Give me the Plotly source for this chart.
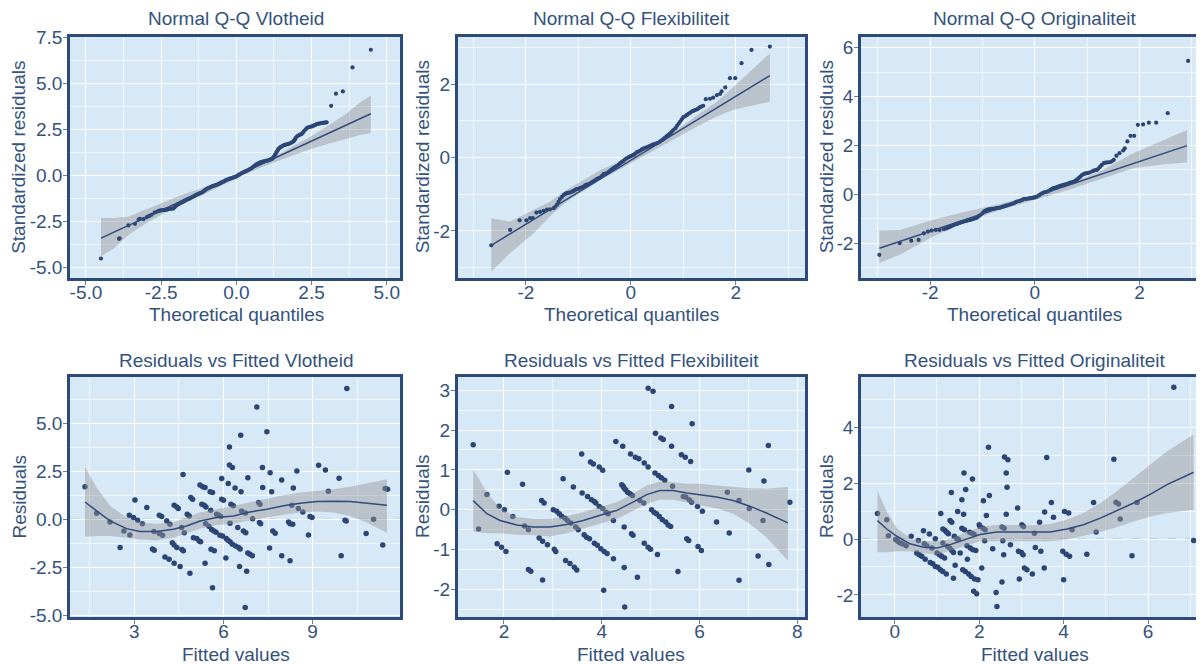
import plotly.graph_objects as go

TEXT = '#34527E'
BORDER = '#2C4A7A'
POINT = '#2B4675'
LINE = '#2F4C7C'
BG = '#D7E8F7'
RIBBON = 'rgba(150,150,150,0.45)'
ZERO = '#8EB3D3'
FONT = 'Liberation Sans, Arial, sans-serif'

titles = ["Normal Q-Q Vlotheid", "Normal Q-Q Flexibiliteit", "Normal Q-Q Originaliteit",
          "Residuals vs Fitted Vlotheid", "Residuals vs Fitted Flexibiliteit", "Residuals vs Fitted Originaliteit"]
xtitles = ["Theoretical quantiles"] * 3 + ["Fitted values"] * 3
ytitles = ["Standardized residuals"] * 3 + ["Residuals"] * 3

# ---------------- Q-Q Vlotheid ----------------
qq_vlot_points = [(-4.50,-4.52),(-3.90,-3.45),(-3.88,-3.42),(-3.59,-2.72),(-3.37,-2.63),(-3.25,-2.40),
    (-3.20,-2.36),(-3.09,-2.38),(-2.98,-2.27),(-2.90,-2.20),(-2.82,-2.14),(-2.72,-2.02),(-2.65,-1.98),
    (-2.58,-1.93),(-2.54,-1.91),(-2.45,-1.89),(-2.37,-1.87),(-2.30,-1.85),(-2.21,-1.81),(-2.15,-1.80),
    (-2.10,-1.80),(-2.04,-1.70),(-1.98,-1.60),(-1.90,-1.54),(-1.82,-1.47),(-1.74,-1.40),(-1.65,-1.32),
    (-1.57,-1.26),(-1.49,-1.20),(-1.40,-1.12),(-1.32,-1.05),(-1.24,-0.99),(-1.15,-0.93),(-1.07,-0.84),
    (-0.99,-0.74),(-0.90,-0.67),(-0.82,-0.60),(-0.74,-0.56),(-0.65,-0.51),(-0.57,-0.45),(-0.49,-0.38),
    (-0.40,-0.31),(-0.32,-0.24),(-0.24,-0.19),(-0.16,-0.15),(-0.08,-0.10),(0.01,-0.05),(0.09,0.04),
    (0.18,0.13),(0.26,0.19),(0.34,0.25),(0.42,0.32),(0.51,0.40),(0.60,0.52),(0.68,0.62),(0.76,0.68),
    (0.84,0.73),(0.92,0.77),(1.01,0.80),(1.10,0.85),(1.18,0.89),(1.24,1.00),(1.29,1.13),(1.35,1.30),
    (1.40,1.45),(1.48,1.55),(1.56,1.63),(1.65,1.68),(1.73,1.71),(1.82,1.78),(1.90,1.85),(1.95,1.98),
    (2.01,2.12),(2.09,2.20),(2.17,2.25),(2.25,2.42),(2.34,2.58),(2.42,2.63),(2.51,2.67),(2.59,2.73),
    (2.67,2.79),(2.75,2.82),(2.84,2.85),(2.92,2.87),(3.00,2.89),(3.15,3.79),(3.31,4.45),(3.54,4.57),
    (3.86,5.88),(4.47,6.84),
    (-2.50,-1.90),(-2.41,-1.88),(-2.33,-1.86),(-2.26,-1.83),(-2.18,-1.80),(-2.07,-1.76),(-2.01,-1.65),
    (-1.94,-1.57),(-1.86,-1.50),(-1.78,-1.43),(-1.70,-1.36),(-1.61,-1.29),(-1.53,-1.23),(-1.45,-1.16),
    (-1.36,-1.08),(-1.28,-1.02),(-1.20,-0.96),(-1.11,-0.89),(-1.03,-0.79),(-0.95,-0.70),(-0.86,-0.63),
    (-0.78,-0.58),(-0.70,-0.53),(-0.61,-0.48),(-0.53,-0.41),(-0.45,-0.35),(-0.36,-0.27),(-0.28,-0.22),
    (-0.20,-0.17),(-0.12,-0.12),(-0.04,-0.08),(0.05,0.00),(0.13,0.08),(0.22,0.16),(0.30,0.22),(0.38,0.28),
    (0.47,0.36),(0.55,0.46),(0.64,0.57),(0.72,0.65),(0.80,0.71),(0.88,0.75),(0.97,0.79),(1.05,0.82),
    (1.14,0.87),(1.21,0.94),(1.27,1.06),(1.32,1.22),(1.38,1.38),(1.44,1.50),(1.52,1.59),(1.60,1.66),
    (1.69,1.70),(1.78,1.75),(1.86,1.82),(1.93,1.92),(1.98,2.05),(2.05,2.16),(2.13,2.23),(2.21,2.33),
    (2.30,2.50),(2.38,2.61),(2.46,2.65),(2.55,2.70),(2.63,2.76),(2.71,2.81),(2.80,2.84),(2.88,2.86),(2.96,2.88)]
qq_vlot_line_x = [-4.50, 4.47]
qq_vlot_line_y = [-3.41, 3.36]
qq_vlot_band_x = [-4.50,-4.05,-3.60,-3.00,-2.40,-1.80,-1.20,-0.60,0.00,0.60,1.20,1.80,2.40,3.00,3.60,4.10,4.47]
qq_vlot_band_up = [-2.32,-2.32,-2.25,-1.85,-1.45,-1.05,-0.72,-0.35,0.02,0.50,0.98,1.52,2.05,2.65,3.30,3.95,4.35]
qq_vlot_band_lo = [-4.40,-3.95,-3.25,-2.60,-2.05,-1.60,-1.10,-0.65,-0.15,0.28,0.68,1.05,1.40,1.70,1.95,2.20,2.30]

# ---------------- Q-Q Flexibiliteit ----------------
qq_flex_points = [(-2.66,-2.39),(-2.30,-1.97),(-2.12,-1.71),(-1.99,-1.71),(-1.92,-1.65),(-1.87,-1.65),
    (-1.80,-1.50),(-1.73,-1.48),(-1.66,-1.45),(-1.60,-1.42),(-1.54,-1.41),(-1.47,-1.38),(-1.41,-1.29),
    (-1.35,-1.13),(-1.28,-1.02),(-1.22,-0.97),(-1.16,-0.95),(-1.09,-0.91),(-1.03,-0.86),(-0.97,-0.83),
    (-0.90,-0.79),(-0.84,-0.74),(-0.77,-0.70),(-0.71,-0.65),(-0.65,-0.59),(-0.58,-0.54),(-0.52,-0.45),
    (-0.46,-0.43),(-0.39,-0.35),(-0.33,-0.29),(-0.27,-0.23),(-0.20,-0.15),(-0.14,-0.09),(-0.08,-0.02),
    (-0.01,0.03),(0.05,0.07),(0.11,0.14),(0.18,0.19),(0.24,0.24),(0.30,0.28),(0.37,0.32),(0.43,0.36),
    (0.50,0.39),(0.56,0.44),(0.62,0.50),(0.69,0.59),(0.75,0.66),(0.81,0.75),(0.88,0.86),(0.94,0.98),
    (1.00,1.10),(1.07,1.16),(1.13,1.22),(1.19,1.27),(1.26,1.31),(1.32,1.37),(1.38,1.41),(1.43,1.59),
    (1.51,1.60),(1.57,1.63),(1.64,1.70),(1.70,1.73),(1.73,1.80),(1.80,1.91),(1.89,2.16),(1.99,2.16),
    (2.11,2.57),(2.30,2.93),(2.65,3.02),
    (-1.44,-1.34),(-1.38,-1.21),(-1.31,-1.07),(-1.25,-0.99),(-1.19,-0.96),(-1.12,-0.93),(-1.06,-0.88),
    (-1.00,-0.85),(-0.93,-0.81),(-0.87,-0.76),(-0.80,-0.72),(-0.74,-0.67),(-0.68,-0.62),(-0.61,-0.56),
    (-0.55,-0.50),(-0.49,-0.44),(-0.42,-0.39),(-0.36,-0.32),(-0.30,-0.26),(-0.23,-0.19),(-0.17,-0.12),
    (-0.11,-0.05),(-0.04,0.01),(0.02,0.05),(0.08,0.10),(0.14,0.16),(0.21,0.22),(0.27,0.26),(0.34,0.30),
    (0.40,0.34),(0.46,0.37),(0.53,0.41),(0.59,0.47),(0.65,0.54),(0.72,0.62),(0.78,0.70),(0.85,0.80),
    (0.91,0.92),(0.97,1.04),(1.04,1.13),(1.10,1.19),(1.16,1.25),(1.22,1.29),(1.29,1.34),(1.35,1.39)]
qq_flex_line_x = [-2.66, 2.65]
qq_flex_line_y = [-2.39, 2.23]
qq_flex_band_x = [-2.66,-2.30,-1.85,-1.54,-1.22,-0.58,0.00,0.69,1.32,1.64,1.96,2.27,2.65]
qq_flex_band_up = [-1.65,-1.74,-1.42,-1.20,-0.88,-0.34,0.03,0.57,1.21,1.52,1.93,2.34,2.84]
qq_flex_band_lo = [-3.10,-2.60,-2.06,-1.60,-1.20,-0.61,-0.15,0.39,0.89,1.12,1.30,1.39,1.52]

# ---------------- Q-Q Originaliteit ----------------
qq_orig_points = [(-2.97,-2.48),(-2.58,-2.00),(-2.36,-1.90),(-2.22,-1.87),(-2.12,-1.60),(-2.04,-1.53),
    (-1.97,-1.49),(-1.89,-1.46),(-1.82,-1.46),(-1.74,-1.42),(-1.68,-1.39),(-1.61,-1.32),(-1.55,-1.26),
    (-1.48,-1.21),(-1.42,-1.16),(-1.36,-1.12),(-1.29,-1.08),(-1.23,-1.05),(-1.17,-1.01),(-1.10,-0.95),
    (-1.04,-0.85),(-0.97,-0.71),(-0.91,-0.64),(-0.85,-0.61),(-0.78,-0.60),(-0.72,-0.57),(-0.66,-0.55),
    (-0.59,-0.50),(-0.53,-0.46),(-0.46,-0.41),(-0.40,-0.37),(-0.34,-0.30),(-0.27,-0.26),(-0.21,-0.20),
    (-0.15,-0.19),(-0.08,-0.16),(-0.02,-0.14),(0.04,-0.10),(0.11,0.00),(0.17,0.07),(0.24,0.11),(0.30,0.18),
    (0.36,0.25),(0.43,0.29),(0.49,0.34),(0.55,0.38),(0.62,0.42),(0.68,0.48),(0.75,0.52),(0.81,0.61),
    (0.87,0.72),(0.94,0.83),(1.00,0.86),(1.06,0.90),(1.13,0.97),(1.19,1.00),(1.25,1.13),(1.32,1.27),
    (1.38,1.30),(1.45,1.32),(1.51,1.41),(1.56,1.58),(1.62,1.68),(1.69,1.79),(1.72,1.88),(1.77,2.16),
    (1.83,2.39),(1.90,2.39),(1.97,2.84),(2.07,2.86),(2.18,2.93),(2.32,2.93),(2.54,3.32),(2.93,5.46),
    (-1.71,-1.40),(-1.64,-1.35),(-1.58,-1.29),(-1.51,-1.23),(-1.45,-1.18),(-1.39,-1.14),(-1.32,-1.10),
    (-1.26,-1.06),(-1.20,-1.03),(-1.13,-0.98),(-1.07,-0.90),(-1.00,-0.78),(-0.94,-0.67),(-0.88,-0.62),
    (-0.81,-0.60),(-0.75,-0.58),(-0.69,-0.56),(-0.62,-0.52),(-0.56,-0.48),(-0.49,-0.43),(-0.43,-0.39),
    (-0.37,-0.33),(-0.30,-0.28),(-0.24,-0.23),(-0.18,-0.19),(-0.11,-0.17),(-0.05,-0.15),(0.01,-0.12),
    (0.08,-0.05),(0.14,0.04),(0.20,0.09),(0.27,0.14),(0.33,0.22),(0.40,0.27),(0.46,0.32),(0.52,0.36),
    (0.59,0.40),(0.65,0.45),(0.72,0.50),(0.78,0.56),(0.84,0.66),(0.90,0.78),(0.97,0.85),(1.03,0.88),
    (1.10,0.94),(1.16,0.99),(1.22,1.06),(1.28,1.20),(1.35,1.29),(1.41,1.31),(1.48,1.36)]
qq_orig_line_x = [-2.97, 2.91]
qq_orig_line_y = [-2.21, 1.99]
qq_orig_band_x = [-2.97,-2.58,-1.94,-1.31,-0.67,0.00,0.61,1.24,1.88,2.52,2.91]
qq_orig_band_up = [-1.49,-1.46,-1.05,-0.71,-0.40,-0.03,0.38,0.93,1.68,2.29,2.63]
qq_orig_band_lo = [-2.82,-2.48,-1.73,-1.15,-0.64,-0.23,0.15,0.59,1.06,1.24,1.30]

# ---------------- Residuals vs Fitted Vlotheid ----------------
rvf_vlot_points = [(1.34,1.69),(1.73,0.31),(2.18,-0.14),(2.52,-1.48),(2.65,-0.61),(2.83,0.21),(2.85,-0.82),
    (3.02,1.01),(2.97,0.09),(3.11,-0.05),(3.27,-0.23),(3.42,0.61),(3.61,-1.55),(3.67,-1.62),(3.66,-0.64),
    (3.84,0.21),(3.92,0.14),(3.84,-0.75),(3.95,-0.83),(4.03,-1.97),(4.17,-2.09),(4.09,-0.09),(4.20,-0.26),
    (4.28,-1.23),(4.34,-1.34),(4.34,-2.30),(4.34,0.73),(4.43,0.64),(4.48,0.56),(4.54,-2.47),(4.43,-1.48),
    (4.60,-1.58),(4.65,-1.65),(4.64,2.33),(4.68,-0.70),(4.59,-0.43),(4.78,0.26),(4.85,0.17),(4.87,-2.82),
    (4.90,1.13),(4.96,1.04),(4.99,-0.96),(5.10,-1.01),(5.18,-1.13),(5.23,-1.18),(5.21,1.79),(5.30,1.70),
    (5.38,1.65),(5.27,0.78),(5.35,0.73),(5.41,0.64),(5.38,-2.30),(5.40,-0.23),(5.51,-0.37),(5.55,1.44),
    (5.63,1.39),(5.57,0.47),(5.63,-3.57),(5.58,-1.57),(5.69,-1.65),(5.60,-0.54),(5.68,-0.61),(5.77,0.26),
    (5.75,-0.68),(5.84,0.21),(5.88,-0.83),(5.94,2.12),(5.94,1.04),(6.00,0.99),(5.97,-0.87),(5.91,0.14),
    (6.08,-2.02),(6.09,-1.01),(6.15,-1.10),(6.16,1.86),(6.20,3.77),(6.20,2.83),(6.30,2.70),(6.22,-0.21),
    (6.25,0.78),(6.33,0.70),(6.22,-1.18),(6.30,-1.30),(6.39,1.63),(6.41,-1.39),(6.48,-0.43),(6.51,-1.48),
    (6.56,-1.55),(6.54,-2.47),(6.58,4.38),(6.59,1.44),(6.61,0.43),(6.67,-0.61),(6.75,-0.70),(6.73,-4.61),
    (6.74,0.33),(6.78,-2.71),(6.82,2.17),(6.82,-1.76),(6.89,-1.83),(6.97,-1.91),(6.98,0.03),(7.12,5.86),
    (7.18,0.87),(7.23,0.78),(7.21,-0.17),(7.25,-0.23),(7.31,2.70),(7.32,1.65),(7.46,4.56),(7.55,-1.50),
    (7.57,2.43),(7.62,1.43),(7.66,-0.61),(7.74,-0.73),(7.96,2.05),(7.96,-1.91),(8.19,-0.14),(8.24,-0.23),
    (8.24,-2.17),(8.33,-0.26),(8.35,1.63),(8.30,0.73),(8.47,2.52),(8.52,0.56),(8.67,0.38),(8.86,-0.82),
    (8.91,0.14),(8.98,0.09),(9.20,2.82),(9.43,2.57),(9.53,1.46),(9.89,2.14),(9.96,-1.91),(10.09,-0.05),
    (10.13,-0.09),(10.15,6.82),(10.80,-0.75),(11.05,0.00),(11.36,-1.34),(11.44,1.60),(11.52,1.57)]
rvf_vlot_smooth_x = [1.34,1.73,2.18,2.74,3.19,3.75,4.31,4.76,5.21,5.77,6.33,6.89,7.46,8.02,8.58,9.14,9.70,10.26,10.82,11.50]
rvf_vlot_smooth_y = [0.90,0.43,-0.09,-0.49,-0.64,-0.64,-0.52,-0.35,-0.09,0.09,0.17,0.38,0.52,0.70,0.83,0.92,0.94,0.92,0.83,0.73]
rvf_vlot_band_up = [2.73,1.65,0.70,0.09,-0.17,-0.23,-0.17,0.09,0.35,0.52,0.70,0.87,1.04,1.25,1.39,1.48,1.57,1.70,1.86,2.09]
rvf_vlot_band_lo = [-0.92,-0.87,-0.87,-0.96,-1.06,-1.10,-0.96,-0.73,-0.49,-0.30,-0.23,-0.05,0.09,0.23,0.35,0.40,0.35,0.17,-0.17,-0.70]

# ---------------- Residuals vs Fitted Flexibiliteit ----------------
rvf_flex_points = [(1.37,1.63),(1.48,-0.48),(1.65,0.38),(1.86,-0.85),(1.90,0.09),(1.95,-0.94),(2.01,0.00),
    (2.04,-1.05),(2.07,0.94),(2.18,-0.17),(2.38,0.64),(2.42,-0.41),(2.50,-0.50),(2.50,-1.50),(2.55,-1.54),
    (2.72,-0.71),(2.77,0.23),(2.82,0.17),(2.79,-0.79),(2.79,-1.76),(2.89,-0.88),(3.01,0.00),(3.03,-0.99),
    (3.06,-1.05),(3.08,-0.04),(3.13,-0.10),(3.18,-0.16),(3.21,0.78),(3.26,-1.27),(3.25,-0.21),(3.30,-0.27),
    (3.35,-1.35),(3.37,-0.33),(3.42,0.57),(3.44,-1.44),(3.49,-1.51),(3.47,-0.43),(3.52,-0.50),(3.59,1.40),
    (3.60,0.42),(3.64,-0.63),(3.69,-0.69),(3.71,0.33),(3.75,-0.73),(3.77,1.20),(3.79,0.25),(3.83,1.15),
    (3.85,0.21),(3.85,-0.84),(3.88,0.17),(3.91,-0.89),(3.95,1.07),(3.95,0.08),(4.02,0.99),(3.98,-0.98),
    (4.02,0.03),(4.04,-2.02),(4.05,-1.05),(4.09,-0.06),(4.11,-1.10),(4.13,-0.10),(4.24,-1.23),(4.24,-0.27),
    (4.29,1.71),(4.41,0.63),(4.43,1.59),(4.44,0.59),(4.46,0.54),(4.46,-0.43),(4.46,-1.45),(4.49,0.50),
    (4.47,-2.44),(4.53,0.44),(4.58,0.40),(4.59,1.40),(4.61,-0.60),(4.63,0.36),(4.64,-0.64),(4.69,1.32),
    (4.73,-1.69),(4.76,1.28),(4.78,0.23),(4.86,0.17),(4.87,1.17),(4.87,-0.84),(4.95,1.07),(4.95,-0.94),
    (4.95,3.05),(5.00,-0.99),(5.02,0.00),(5.05,2.97),(5.07,-0.06),(5.09,0.92),(5.10,1.92),(5.12,-0.10),
    (5.14,-1.12),(5.16,0.86),(5.18,-0.17),(5.21,1.80),(5.22,0.80),(5.24,-0.25),(5.26,1.76),(5.29,0.74),
    (5.31,-0.31),(5.36,-0.38),(5.41,-0.42),(5.43,2.59),(5.43,1.59),(5.45,0.59),(5.56,-1.55),(5.63,1.38),
    (5.67,0.33),(5.71,1.32),(5.72,0.32),(5.74,-0.73),(5.78,-0.77),(5.79,0.25),(5.82,1.21),(5.84,0.19),
    (5.85,2.16),(5.96,0.08),(5.97,-0.92),(6.04,-1.02),(6.06,-0.04),(6.35,-0.31),(6.57,0.44),(6.61,-0.58),
    (6.81,0.23),(6.81,-1.77),(7.01,1.00),(7.02,0.03),(7.20,-1.16),(7.30,-0.27),(7.32,0.72),(7.41,1.61),
    (7.42,-1.37),(7.85,0.19)]
rvf_flex_smooth_x = [1.37,1.65,1.92,2.26,2.60,2.94,3.28,3.62,3.97,4.30,4.64,4.92,5.19,5.46,5.74,6.01,6.35,6.69,7.03,7.37,7.81]
rvf_flex_smooth_y = [0.23,-0.10,-0.27,-0.38,-0.43,-0.43,-0.37,-0.27,-0.14,-0.02,0.19,0.38,0.48,0.48,0.42,0.38,0.32,0.23,0.09,-0.08,-0.33]
rvf_flex_band_up = [1.01,0.44,0.03,-0.18,-0.23,-0.23,-0.16,-0.06,0.07,0.19,0.40,0.61,0.71,0.69,0.65,0.65,0.61,0.57,0.54,0.53,0.57]
rvf_flex_band_lo = [-0.54,-0.59,-0.59,-0.63,-0.64,-0.67,-0.59,-0.48,-0.35,-0.23,-0.03,0.15,0.25,0.25,0.19,0.11,0.03,-0.10,-0.35,-0.69,-1.27]

# ---------------- Residuals vs Fitted Originaliteit ----------------
rvf_orig_points = [(-0.41,0.91),(-0.19,0.69),(-0.15,0.12),(0.02,-0.02),(0.07,-0.08),(0.13,-0.14),(0.19,-0.18),
    (0.27,-0.24),(0.39,0.10),(0.52,-0.50),(0.56,-0.05),(0.58,-0.56),(0.64,-0.62),(0.68,0.30),(0.70,-0.17),
    (0.72,-0.72),(0.76,-0.24),(0.82,0.18),(0.84,-0.84),(0.88,-0.32),(0.90,-0.88),(0.96,0.01),(0.96,-0.98),
    (1.00,-0.50),(1.02,-1.01),(1.06,-0.56),(1.08,-1.10),(1.09,0.91),(1.11,-0.62),(1.14,-0.14),(1.14,0.36),
    (1.14,-1.16),(1.18,-0.68),(1.19,0.31),(1.22,-1.25),(1.23,0.24),(1.25,-0.26),(1.27,0.19),(1.30,-0.32),
    (1.31,0.66),(1.35,0.60),(1.35,-0.41),(1.34,1.67),(1.39,-1.40),(1.39,-0.48),(1.41,0.10),(1.43,-0.94),
    (1.47,0.01),(1.49,0.99),(1.51,-0.02),(1.55,-0.50),(1.59,1.41),(1.59,0.39),(1.61,-1.10),(1.63,0.89),
    (1.64,2.36),(1.65,0.33),(1.67,-1.16),(1.68,1.77),(1.71,-0.24),(1.72,-0.72),(1.75,-1.25),(1.77,0.24),
    (1.79,-0.32),(1.81,-1.34),(1.83,0.21),(1.84,2.15),(1.85,-0.38),(1.87,-1.87),(1.88,0.16),(1.89,-1.43),
    (1.92,-0.41),(1.94,-1.96),(1.97,-1.46),(2.00,0.51),(2.02,0.45),(2.06,-1.04),(2.09,0.39),(2.10,1.37),
    (2.13,-0.06),(2.14,0.33),(2.17,0.84),(2.22,3.29),(2.24,1.56),(2.32,-0.35),(2.40,-1.91),(2.42,-2.41),
    (2.54,-1.54),(2.54,0.43),(2.56,-0.06),(2.58,-0.56),(2.59,0.39),(2.60,2.94),(2.64,2.36),(2.64,0.89),
    (2.66,1.85),(2.68,2.84),(2.74,-0.20),(2.91,1.11),(2.93,-0.44),(2.95,-1.43),(3.00,-0.48),(3.01,0.51),
    (3.04,-0.56),(3.05,0.45),(3.07,-1.04),(3.13,-1.10),(3.26,-1.25),(3.31,0.21),(3.33,-0.30),(3.43,0.60),
    (3.46,-0.44),(3.54,-1.04),(3.55,0.97),(3.60,2.92),(3.71,1.31),(3.76,0.78),(3.98,-0.44),(4.00,-1.46),
    (4.02,0.99),(4.06,-0.54),(4.12,0.93),(4.14,-0.62),(4.20,0.33),(4.55,-0.54),(4.71,1.31),(4.77,0.25),
    (5.19,2.86),(5.24,1.32),(5.30,1.25),(5.34,0.72),(5.62,-0.60),(5.74,1.31),(6.61,5.43),(7.08,-0.05)]
rvf_orig_smooth_x = [-0.41,-0.19,0.05,0.36,0.68,1.00,1.31,1.71,2.02,2.42,2.81,3.29,3.68,4.08,4.47,4.87,5.26,5.66,6.06,6.45,7.08]
rvf_orig_smooth_y = [0.66,0.36,0.10,-0.17,-0.29,-0.32,-0.20,0.00,0.16,0.25,0.25,0.24,0.25,0.36,0.51,0.75,1.01,1.29,1.61,1.95,2.39]
rvf_orig_band_up = [1.73,0.99,0.39,0.04,-0.08,-0.08,0.01,0.24,0.43,0.51,0.51,0.49,0.54,0.69,0.93,1.29,1.71,2.18,2.66,3.14,3.74]
rvf_orig_band_lo = [-0.47,-0.48,-0.44,-0.44,-0.50,-0.56,-0.41,-0.23,-0.08,-0.08,-0.06,-0.08,-0.08,-0.02,0.10,0.25,0.42,0.63,0.81,0.93,1.05]

# ---------------- tick labels ----------------
ticks_x1 = [-5.0, -2.5, 0.0, 2.5, 5.0]; ticklabels_x1 = ["-5.0", "-2.5", "0.0", "2.5", "5.0"]
ticks_y1 = [-5.0, -2.5, 0.0, 2.5, 5.0, 7.5]; ticklabels_y1 = ["-5.0", "-2.5", "0.0", "2.5", "5.0", "7.5"]
ticks_x2 = [-2, 0, 2]; ticklabels_x2 = ["-2", "0", "2"]
ticks_y2 = [-2, 0, 2]; ticklabels_y2 = ["-2", "0", "2"]
ticks_x3 = [-2, 0, 2]; ticklabels_x3 = ["-2", "0", "2"]
ticks_y3 = [-2, 0, 2, 4, 6]; ticklabels_y3 = ["-2", "0", "2", "4", "6"]
ticks_x4 = [3, 6, 9]; ticklabels_x4 = ["3", "6", "9"]
ticks_y4 = [-5.0, -2.5, 0.0, 2.5, 5.0]; ticklabels_y4 = ["-5.0", "-2.5", "0.0", "2.5", "5.0"]
ticks_x5 = [2, 4, 6, 8]; ticklabels_x5 = ["2", "4", "6", "8"]
ticks_y5 = [-2, -1, 0, 1, 2, 3]; ticklabels_y5 = ["-2", "-1", "0", "1", "2", "3"]
ticks_x6 = [0, 2, 4, 6]; ticklabels_x6 = ["0", "2", "4", "6"]
ticks_y6 = [-2, 0, 2, 4]; ticklabels_y6 = ["-2", "0", "2", "4"]

fig = go.Figure()


def sfx(i):
    return '' if i == 1 else str(i)


def band(xs, up, lo, i):
    return go.Scatter(x=list(xs) + list(xs)[::-1], y=list(up) + list(lo)[::-1], fill='toself',
                      fillcolor=RIBBON, line=dict(width=0), mode='lines', hoverinfo='skip',
                      xaxis='x' + sfx(i), yaxis='y' + sfx(i), showlegend=False)


def pts(points, i, size):
    return go.Scatter(x=[p[0] for p in points], y=[p[1] for p in points], mode='markers',
                      marker=dict(color=POINT, size=size, line=dict(width=0)),
                      xaxis='x' + sfx(i), yaxis='y' + sfx(i), showlegend=False)


def ln(xs, ys, i):
    return go.Scatter(x=xs, y=ys, mode='lines', line=dict(color=LINE, width=1.5),
                      xaxis='x' + sfx(i), yaxis='y' + sfx(i), showlegend=False)


qq = [(qq_vlot_points, qq_vlot_line_x, qq_vlot_line_y, qq_vlot_band_x, qq_vlot_band_up, qq_vlot_band_lo),
      (qq_flex_points, qq_flex_line_x, qq_flex_line_y, qq_flex_band_x, qq_flex_band_up, qq_flex_band_lo),
      (qq_orig_points, qq_orig_line_x, qq_orig_line_y, qq_orig_band_x, qq_orig_band_up, qq_orig_band_lo)]
for k, (p, lx, ly, bx, bu, bl) in enumerate(qq):
    i = k + 1
    fig.add_trace(band(bx, bu, bl, i))
    fig.add_trace(pts(p, i, 4.2))
    fig.add_trace(ln(lx, ly, i))

rv = [(rvf_vlot_points, rvf_vlot_smooth_x, rvf_vlot_smooth_y, rvf_vlot_band_up, rvf_vlot_band_lo),
      (rvf_flex_points, rvf_flex_smooth_x, rvf_flex_smooth_y, rvf_flex_band_up, rvf_flex_band_lo),
      (rvf_orig_points, rvf_orig_smooth_x, rvf_orig_smooth_y, rvf_orig_band_up, rvf_orig_band_lo)]
for k, (p, sx, sy, bu, bl) in enumerate(rv):
    i = k + 4
    fig.add_shape(type='line', xref='x' + sfx(i) + ' domain', yref='y' + sfx(i), x0=0, x1=1, y0=0, y1=0,
                  line=dict(color=ZERO, width=1, dash='dash'), layer='below')
    fig.add_trace(pts(p, i, 5.5))
    fig.add_trace(band(sx, bu, bl, i))
    fig.add_trace(ln(sx, sy, i))

# figure pixel layout (the page adds an 8 px body margin)
W, H = 1204, 664
col_px = [(62, 392), (449.7, 797), (853, 1200)]
row_px = [(28.7, 270), (369, 609)]
xranges = [[-5.53, 5.44], [-3.30, 3.32], [-3.32, 3.31], [0.835, 11.94], [1.053, 8.16], [-0.80, 7.42]]
yranges = [[-5.58, 7.55], [-3.28, 3.29], [-3.43, 6.45], [-5.10, 7.42], [-2.69, 3.33], [-2.79, 5.80]]
xt = [(ticks_x1, ticklabels_x1), (ticks_x2, ticklabels_x2), (ticks_x3, ticklabels_x3),
      (ticks_x4, ticklabels_x4), (ticks_x5, ticklabels_x5), (ticks_x6, ticklabels_x6)]
yt = [(ticks_y1, ticklabels_y1), (ticks_y2, ticklabels_y2), (ticks_y3, ticklabels_y3),
      (ticks_y4, ticklabels_y4), (ticks_y5, ticklabels_y5), (ticks_y6, ticklabels_y6)]
title_y_px = [11, 352]
xtitle_y_px = [306, 646]
xtitle_cx_px = [228, 623, 1026.5]
ytitle_cx_px = [10.5, 414, 818]


def minor_vals(vals):
    step = vals[1] - vals[0]
    return [vals[0] - step / 2] + [v + step / 2 for v in vals]


def axis_base(tv, tt, rng):
    return dict(range=rng, tickmode='array', tickvals=tv, ticktext=tt, automargin=False,
                showline=True, linecolor=BORDER, linewidth=2.5, mirror=True,
                ticks='outside', ticklen=4, tickwidth=1, tickcolor='#6D7F95',
                showgrid=True, gridcolor='white', gridwidth=1.2, zeroline=False,
                minor=dict(tickmode='array', tickvals=minor_vals(tv), showgrid=True,
                           gridcolor='rgba(255,255,255,0.7)', gridwidth=0.6, ticks=''),
                tickfont=dict(size=19, color=TEXT, family=FONT), fixedrange=True)


layout = dict(width=W, height=H, margin=dict(l=0, r=0, t=0, b=0, autoexpand=False), paper_bgcolor='white',
              plot_bgcolor=BG, showlegend=False, font=dict(family=FONT, color=TEXT))
annotations = []
tfont = dict(size=19, color=TEXT, family=FONT)
for k in range(6):
    r, c = divmod(k, 3)
    i = k + 1
    xd = [col_px[c][0] / W, col_px[c][1] / W]
    yd = [1 - row_px[r][1] / H, 1 - row_px[r][0] / H]
    xa = axis_base(xt[k][0], xt[k][1], xranges[k])
    xa.update(domain=xd, anchor='y' + sfx(i), ticklabelstandoff=-9)
    ya = axis_base(yt[k][0], yt[k][1], yranges[k])
    ya.update(domain=yd, anchor='x' + sfx(i), ticklabelstandoff=-3)
    layout['xaxis' + sfx(i)] = xa
    layout['yaxis' + sfx(i)] = ya
    annotations.append(dict(text=titles[k], x=xtitle_cx_px[c] / W, y=1 - title_y_px[r] / H,
                            xref='paper', yref='paper', showarrow=False,
                            xanchor='center', yanchor='middle', font=tfont))
    annotations.append(dict(text=xtitles[k], x=xtitle_cx_px[c] / W, y=1 - xtitle_y_px[r] / H,
                            xref='paper', yref='paper', showarrow=False,
                            xanchor='center', yanchor='middle', font=tfont))
    annotations.append(dict(text=ytitles[k], x=ytitle_cx_px[c] / W, y=1 - (row_px[r][0] + row_px[r][1]) / 2 / H,
                            xref='paper', yref='paper', showarrow=False, textangle=-90,
                            xanchor='center', yanchor='middle', font=tfont))
layout['annotations'] = annotations
fig.update_layout(**layout)
fig.write_html("out.html")
